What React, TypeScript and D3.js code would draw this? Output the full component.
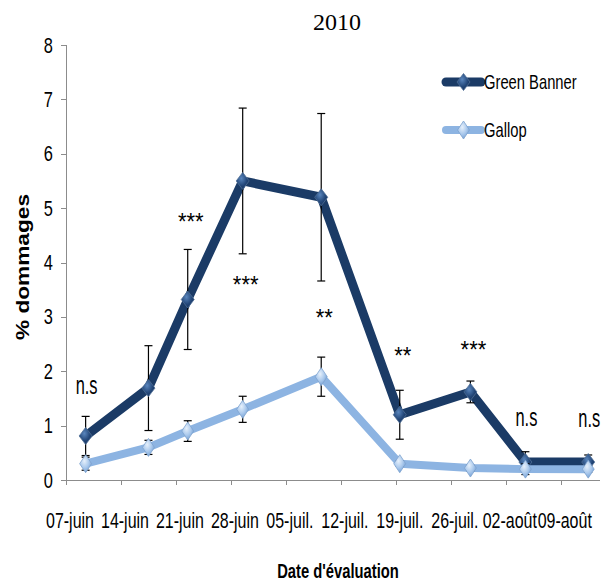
import React from "react";
import * as d3 from "d3";

const title = "2010";
const xTickLabels = ["07-juin", "14-juin", "21-juin", "28-juin", "05-juil.", "12-juil.", "19-juil.", "26-juil.", "02-août", "09-août"];
const dates = ["2010-06-09", "2010-06-17", "2010-06-22", "2010-06-29", "2010-07-09", "2010-07-19", "2010-07-28", "2010-08-04", "2010-08-12"];
const greenBanner = [0.81, 1.69, 3.32, 5.5, 5.2, 1.2, 1.62, 0.33, 0.33];
const greenBannerErr = [0.36, 0.78, 0.92, 1.34, 1.54, 0.45, 0.2, 0.19, 0.13];
const gallop = [0.3, 0.6, 0.9, 1.3, 1.9, 0.3, 0.22, 0.2, 0.2];
const gallopErr = [0.12, 0.13, 0.19, 0.24, 0.36, 0.05, 0.05, 0.1, 0.06];
const sigIndex = [0, 2, 3, 4, 5, 6, 7, 8];
const sigLabel = ["n.s", "***", "***", "**", "**", "***", "n.s", "n.s"];
const sigLevel = [1.71, 4.84, 3.68, 3.07, 2.37, 2.48, 1.12, 1.1];
const yTicks = [0, 1, 2, 3, 4, 5, 6, 7, 8];

const FONT = "'Liberation Sans', Arial, sans-serif";
const DARK = "#1B3B66";
const LIGHT = "#8DB4E2";

const start = new Date(2010, 5, 7);
const dayOf = (s: string) => {
  const [y, m, d] = s.split("-").map(Number);
  return d3.timeDay.count(start, new Date(y, m - 1, d));
};

export default function App() {
  const x = d3.scaleLinear().domain([0, 68]).range([66, 600]);
  const y = d3.scaleLinear().domain([0, 8]).range([480, 45]);
  const px = (s: string) => x(dayOf(s) + 0.5);

  const line = d3
    .line<number>()
    .x((_, i) => px(dates[i]))
    .y((v) => y(v));

  const diamond = (cx: number, cy: number, w: number, h: number) =>
    `M${cx},${cy - h} L${cx + w},${cy} L${cx},${cy + h} L${cx - w},${cy} Z`;

  const errBars = (vals: number[], errs: number[], key: string) =>
    vals.map((v, i) => {
      const cx = px(dates[i]);
      const y1 = y(v + errs[i]);
      const y2 = y(Math.max(0, v - errs[i]));
      return (
        <g key={key + i} stroke="#000" strokeWidth={1.2}>
          <line x1={cx} x2={cx} y1={y1} y2={y2} />
          <line x1={cx - 4} x2={cx + 4} y1={y1} y2={y1} />
          <line x1={cx - 4} x2={cx + 4} y1={y2} y2={y2} />
        </g>
      );
    });

  const stretched = (
    text: string,
    tx: number,
    ty: number,
    size: number,
    sy: number,
    anchor: string = "middle",
    weight: string = "normal",
    sx: number = 0.82,
    family: string = FONT
  ) => (
    <text
      transform={`translate(${tx},${ty}) scale(${sx},${sy})`}
      textAnchor={anchor}
      fontSize={size}
      fontFamily={family}
      fontWeight={weight}
      fill="#000"
    >
      {text}
    </text>
  );

  return (
    <svg width={605} height={586} style={{ position: "absolute", left: 0, top: 0, background: "#fff" }}>
      <defs>
        <radialGradient id="gDark" cx="40%" cy="35%" r="70%">
          <stop offset="0%" stopColor="#5A86BD" />
          <stop offset="60%" stopColor="#24487A" />
          <stop offset="100%" stopColor="#15305A" />
        </radialGradient>
        <radialGradient id="gLight" cx="40%" cy="35%" r="70%">
          <stop offset="0%" stopColor="#E6F0FB" />
          <stop offset="55%" stopColor="#A9C8EC" />
          <stop offset="100%" stopColor="#6F9BD0" />
        </radialGradient>
      </defs>

      {/* Title */}
      <text x={337} y={30} textAnchor="middle" fontSize={24} fontFamily="'Liberation Serif', 'Times New Roman', serif">
        {title}
      </text>

      {/* Y axis */}
      <line x1={66.5} x2={66.5} y1={y(8)} y2={y(0)} stroke="#8c8c8c" strokeWidth={1} />
      {yTicks.map((t) => (
        <g key={"yt" + t}>
          <line x1={61} x2={66.5} y1={Math.round(y(t)) + 0.5} y2={Math.round(y(t)) + 0.5} stroke="#8c8c8c" />
          {stretched(String(t), 53, y(t) + 7.5, 20, 1.1, "end")}
        </g>
      ))}

      {/* X axis */}
      <line x1={66} x2={600} y1={480.5} y2={480.5} stroke="#8c8c8c" strokeWidth={1.2} />
      {xTickLabels.map((lab, i) => (
        <g key={"xt" + i}>
          <line x1={Math.round(x(i * 7)) + 0.5} x2={Math.round(x(i * 7)) + 0.5} y1={480} y2={485} stroke="#8c8c8c" />
          {stretched(lab, x(i * 7) + 4, 528, 19.5, 1.12)}
        </g>
      ))}

      {/* Axis titles */}
      {stretched("Date d'évaluation", 338, 578, 18, 1.15, "middle", "bold")}
      <text
        transform={`translate(29,267) rotate(-90)`}
        textAnchor="middle"
        fontSize={18}
        fontFamily={FONT}
        fontWeight="bold"
        textLength={146}
        lengthAdjust="spacingAndGlyphs"
      >
        % dommages
      </text>

      {/* Green Banner series */}
      <path d={line(greenBanner) || ""} fill="none" stroke={DARK} strokeWidth={9} strokeLinejoin="round" />
      {errBars(greenBanner, greenBannerErr, "ge")}
      {greenBanner.map((v, i) => (
        <path key={"gm" + i} d={diamond(px(dates[i]), y(v), 6.5, 8.5)} fill="url(#gDark)" stroke="#4F6E96" strokeWidth={0.8} />
      ))}

      {/* Gallop series */}
      <path d={line(gallop) || ""} fill="none" stroke={LIGHT} strokeWidth={8} strokeLinejoin="round" />
      {errBars(gallop, gallopErr, "le")}
      {gallop.map((v, i) => (
        <path key={"lm" + i} d={diamond(px(dates[i]), y(v), 6, 9)} fill="url(#gLight)" stroke="#7FA3CF" strokeWidth={0.8} />
      ))}

      {/* Significance labels */}
      {sigIndex.map((idx, k) => {
        const lab = sigLabel[k];
        const cx = px(dates[idx]) + (lab === "n.s" ? 1 : 3);
        const cy = y(sigLevel[k]);
        return lab === "n.s" ? (
          <g key={"s" + k}>{stretched(lab, cx, cy + 7, 20, 1.3)}</g>
        ) : (
          <g key={"s" + k}>{stretched(lab, cx, cy + 13, 22, 1.1, "middle", "normal", 1)}</g>
        );
      })}

      {/* Legend */}
      <g>
        <line x1={446} x2={481} y1={82} y2={82} stroke={DARK} strokeWidth={9} strokeLinecap="round" />
        <path d={diamond(463.5, 82, 6.5, 8.5)} fill="url(#gDark)" stroke="#4F6E96" strokeWidth={0.8} />
        {stretched("Green Banner", 484, 89, 18, 1.15, "start")}
        <line x1={446} x2={481} y1={130} y2={130} stroke={LIGHT} strokeWidth={8} strokeLinecap="round" />
        <path d={diamond(463.5, 130, 6, 9)} fill="url(#gLight)" stroke="#7FA3CF" strokeWidth={0.8} />
        {stretched("Gallop", 484, 137, 18, 1.15, "start")}
      </g>
    </svg>
  );
}
